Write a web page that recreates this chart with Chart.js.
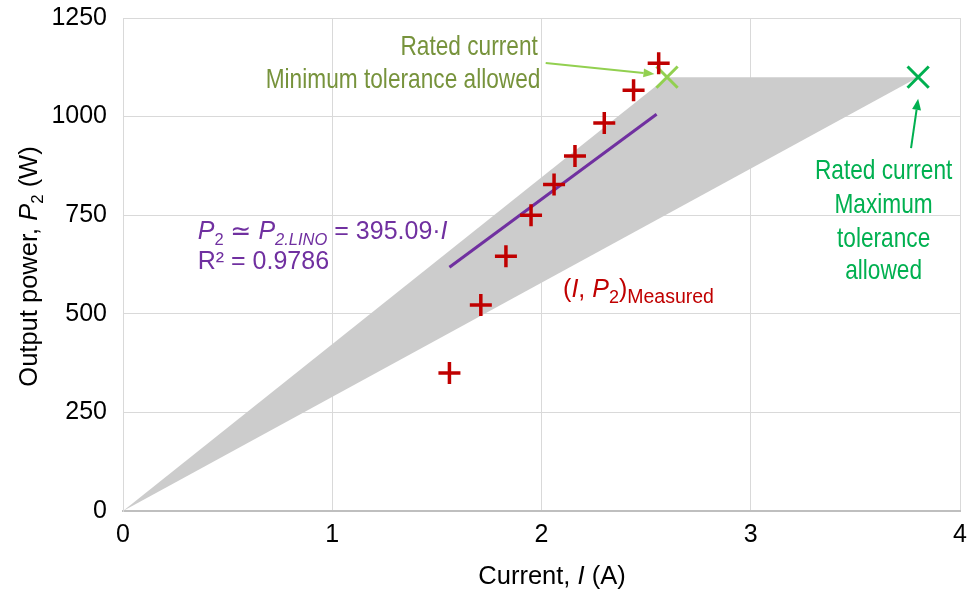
<!DOCTYPE html>
<html>
<head>
<meta charset="utf-8">
<script src="https://cdn.jsdelivr.net/npm/chart.js@4.4.1/dist/chart.umd.min.js"></script>
<style>
  html, body { margin: 0; padding: 0; background: #fff; }
  #wrap { width: 973px; height: 597px; }
</style>
</head>
<body>
<div id="wrap"><canvas id="chart" width="973" height="597"></canvas></div>
<script>
// ---- data ----
const measuredI = [1.56, 1.71, 1.83, 1.95, 2.06, 2.16, 2.30, 2.44, 2.56];
const measuredP = [350, 522, 646, 750, 828, 900, 984, 1067, 1135];

// linear fit drawn as a segment (end points)
const fitI = [1.56, 2.55];
const fitP = [618, 1006];

// tolerance band: upper edge and lower edge
const bandUpperI = [0, 2.6, 3.8];
const bandUpperP = [0, 1100, 1100];
const bandLowerI = [0, 3.8];
const bandLowerP = [0, 1100];

const ratedMinI = [2.6], ratedMinP = [1100];
const ratedMaxI = [3.8], ratedMaxP = [1100];

const xTicks = [0, 1, 2, 3, 4];
const yTicks = [0, 250, 500, 750, 1000, 1250];

const FONT = "'Liberation Sans', Arial, 'DejaVu Sans', sans-serif";
const pts = (xs, ys) => xs.map((x, i) => ({ x: x, y: ys[i] }));

// draws a run of text pieces: {t, i: italic, s: subscript, z: sub size ratio}
// sx squeezes the text horizontally (narrow face look)
function segSize(g, size) { return g.s ? size * (g.z || 0.66) : size; }
function richWidth(ctx, segs, size) {
  let w = 0;
  segs.forEach(g => {
    ctx.font = (g.i ? "italic " : "") + segSize(g, size) + "px " + FONT;
    w += ctx.measureText(g.t).width;
  });
  return w;
}
function drawRich(ctx, segs, x, y, size, color, align, sx) {
  sx = sx || 1;
  const w = richWidth(ctx, segs, size);
  ctx.save();
  ctx.translate(x, y);
  ctx.scale(sx, 1);
  let cx = align === "center" ? -w / 2 : align === "right" ? -w : 0;
  ctx.fillStyle = color;
  ctx.textAlign = "left";
  ctx.textBaseline = "middle";
  segs.forEach(g => {
    const sz = segSize(g, size);
    ctx.font = (g.i ? "italic " : "") + sz + "px " + FONT;
    ctx.fillText(g.t, cx, g.s ? size * 0.32 : 0);
    cx += ctx.measureText(g.t).width;
  });
  ctx.restore();
}
function arrow(ctx, x1, y1, x2, y2, color) {
  const a = Math.atan2(y2 - y1, x2 - x1);
  const L = 11, W = 4.5;
  ctx.strokeStyle = color;
  ctx.fillStyle = color;
  ctx.lineWidth = 2;
  ctx.beginPath();
  ctx.moveTo(x1, y1);
  ctx.lineTo(x2 - L * Math.cos(a), y2 - L * Math.sin(a));
  ctx.stroke();
  ctx.beginPath();
  ctx.moveTo(x2, y2);
  ctx.lineTo(x2 - L * Math.cos(a) + W * Math.sin(a), y2 - L * Math.sin(a) - W * Math.cos(a));
  ctx.lineTo(x2 - L * Math.cos(a) - W * Math.sin(a), y2 - L * Math.sin(a) + W * Math.cos(a));
  ctx.closePath();
  ctx.fill();
}

const labelsPlugin = {
  id: "labels",
  afterDraw(chart) {
    const ctx = chart.ctx;
    const xs = chart.scales.x, ys = chart.scales.y;
    const X = v => xs.getPixelForValue(v), Y = v => ys.getPixelForValue(v);
    const area = chart.chartArea;
    ctx.save();

    // axis titles
    drawRich(ctx, [{ t: "Current, " }, { t: "I", i: true }, { t: " (A)" }],
      552, 577, 25.5, "#000", "center");
    ctx.save();
    ctx.translate(30, (area.top + area.bottom) / 2 + 2);
    ctx.rotate(-Math.PI / 2);
    drawRich(ctx, [{ t: "Output power, " }, { t: "P", i: true }, { t: "2", s: true }, { t: " (W)" }],
      0, 0, 25.5, "#000", "center");
    ctx.restore();

    // minimum tolerance note
    const olive = "#77933C";
    drawRich(ctx, [{ t: "Rated current" }], X(1.654), Y(1176), 28, olive, "center", 0.81);
    drawRich(ctx, [{ t: "Minimum tolerance allowed" }], X(1.995), Y(1093), 28, olive, "right", 0.81);
    arrow(ctx, X(2.02), Y(1136), X(2.54), Y(1108), "#92D050");

    // maximum tolerance note
    const green = "#00B050";
    ["Rated current", "Maximum", "tolerance", "allowed"].forEach((s, k) => {
      drawRich(ctx, [{ t: s }], X(3.635), Y([861, 776, 688, 607][k]), 28, green, "center", 0.81);
    });
    arrow(ctx, X(3.766), Y(920), X(3.80), Y(1045), green);

    // fit equation
    const purple = "#7030A0";
    drawRich(ctx, [{ t: "P", i: true }, { t: "2", s: true }, { t: " \u2243 " },
      { t: "P", i: true }, { t: "2.LINO", s: true, i: true }, { t: " = 395.09\u00B7" }, { t: "I", i: true }],
      X(0.357), Y(707), 25, purple, "left");
    drawRich(ctx, [{ t: "R\u00B2 = 0.9786" }], X(0.357), Y(631), 25, purple, "left");

    // measured label
    drawRich(ctx, [{ t: "(" }, { t: "I", i: true }, { t: ", " }, { t: "P", i: true }, { t: "2", s: true, z: 0.72 },
      { t: ")" }, { t: "Measured", s: true, z: 0.78 }], X(2.103), Y(561), 25, "#C00000", "left");

    ctx.restore();
  }
};

new Chart(document.getElementById("chart"), {
  type: "scatter",
  data: {
    datasets: [
      {
        type: "line",
        data: pts(bandUpperI, bandUpperP),
        borderColor: "rgba(0,0,0,0)",
        borderWidth: 0,
        backgroundColor: "#cccccc",
        pointRadius: 0,
        tension: 0,
        order: 5
      },
      {
        type: "line",
        data: pts(bandLowerI, bandLowerP),
        borderColor: "rgba(0,0,0,0)",
        borderWidth: 0,
        backgroundColor: "#cccccc",
        fill: "-1",
        pointRadius: 0,
        tension: 0,
        order: 4
      },
      {
        type: "line",
        data: pts(fitI, fitP),
        borderColor: "#7030A0",
        borderWidth: 3,
        pointRadius: 0,
        fill: false,
        order: 3
      },
      {
        data: pts(measuredI, measuredP),
        pointStyle: "cross",
        pointRadius: 11,
        borderWidth: 3.5,
        borderColor: "#C00000",
        order: 1
      },
      {
        data: pts(ratedMinI, ratedMinP),
        pointStyle: "crossRot",
        pointRadius: 15,
        borderWidth: 3,
        borderColor: "#92D050",
        order: 2
      },
      {
        data: pts(ratedMaxI, ratedMaxP),
        pointStyle: "crossRot",
        pointRadius: 15,
        borderWidth: 3,
        borderColor: "#00B050",
        order: 2
      }
    ]
  },
  options: {
    responsive: false,
    animation: false,
    events: [],
    layout: { autoPadding: false, padding: { top: 18, right: 13, left: 0, bottom: 0 } },
    plugins: { legend: { display: false }, tooltip: { enabled: false } },
    scales: {
      x: {
        type: "linear",
        min: xTicks[0],
        max: xTicks[xTicks.length - 1],
        afterBuildTicks: s => { s.ticks = xTicks.map(v => ({ value: v })); },
        afterFit: s => { s.height = 86; s.paddingLeft = 0; s.paddingRight = 0; },
        grid: { color: "#d9d9d9", lineWidth: 1, drawTicks: false },
        border: { color: "#bfbfbf", width: 2 },
        ticks: { color: "#000", padding: 9, font: { family: FONT, size: 25 }, callback: v => String(v) }
      },
      y: {
        type: "linear",
        min: yTicks[0],
        max: yTicks[yTicks.length - 1],
        afterBuildTicks: s => { s.ticks = yTicks.map(v => ({ value: v })); },
        afterFit: s => { s.width = 123; s.paddingTop = 0; s.paddingBottom = 0; },
        grid: { color: "#d9d9d9", lineWidth: 1, drawTicks: false },
        border: { color: "#d9d9d9", width: 1 },
        ticks: { color: "#000", padding: 16, font: { family: FONT, size: 25 }, callback: v => String(v) }
      }
    }
  },
  plugins: [labelsPlugin]
});
</script>
</body>
</html>
